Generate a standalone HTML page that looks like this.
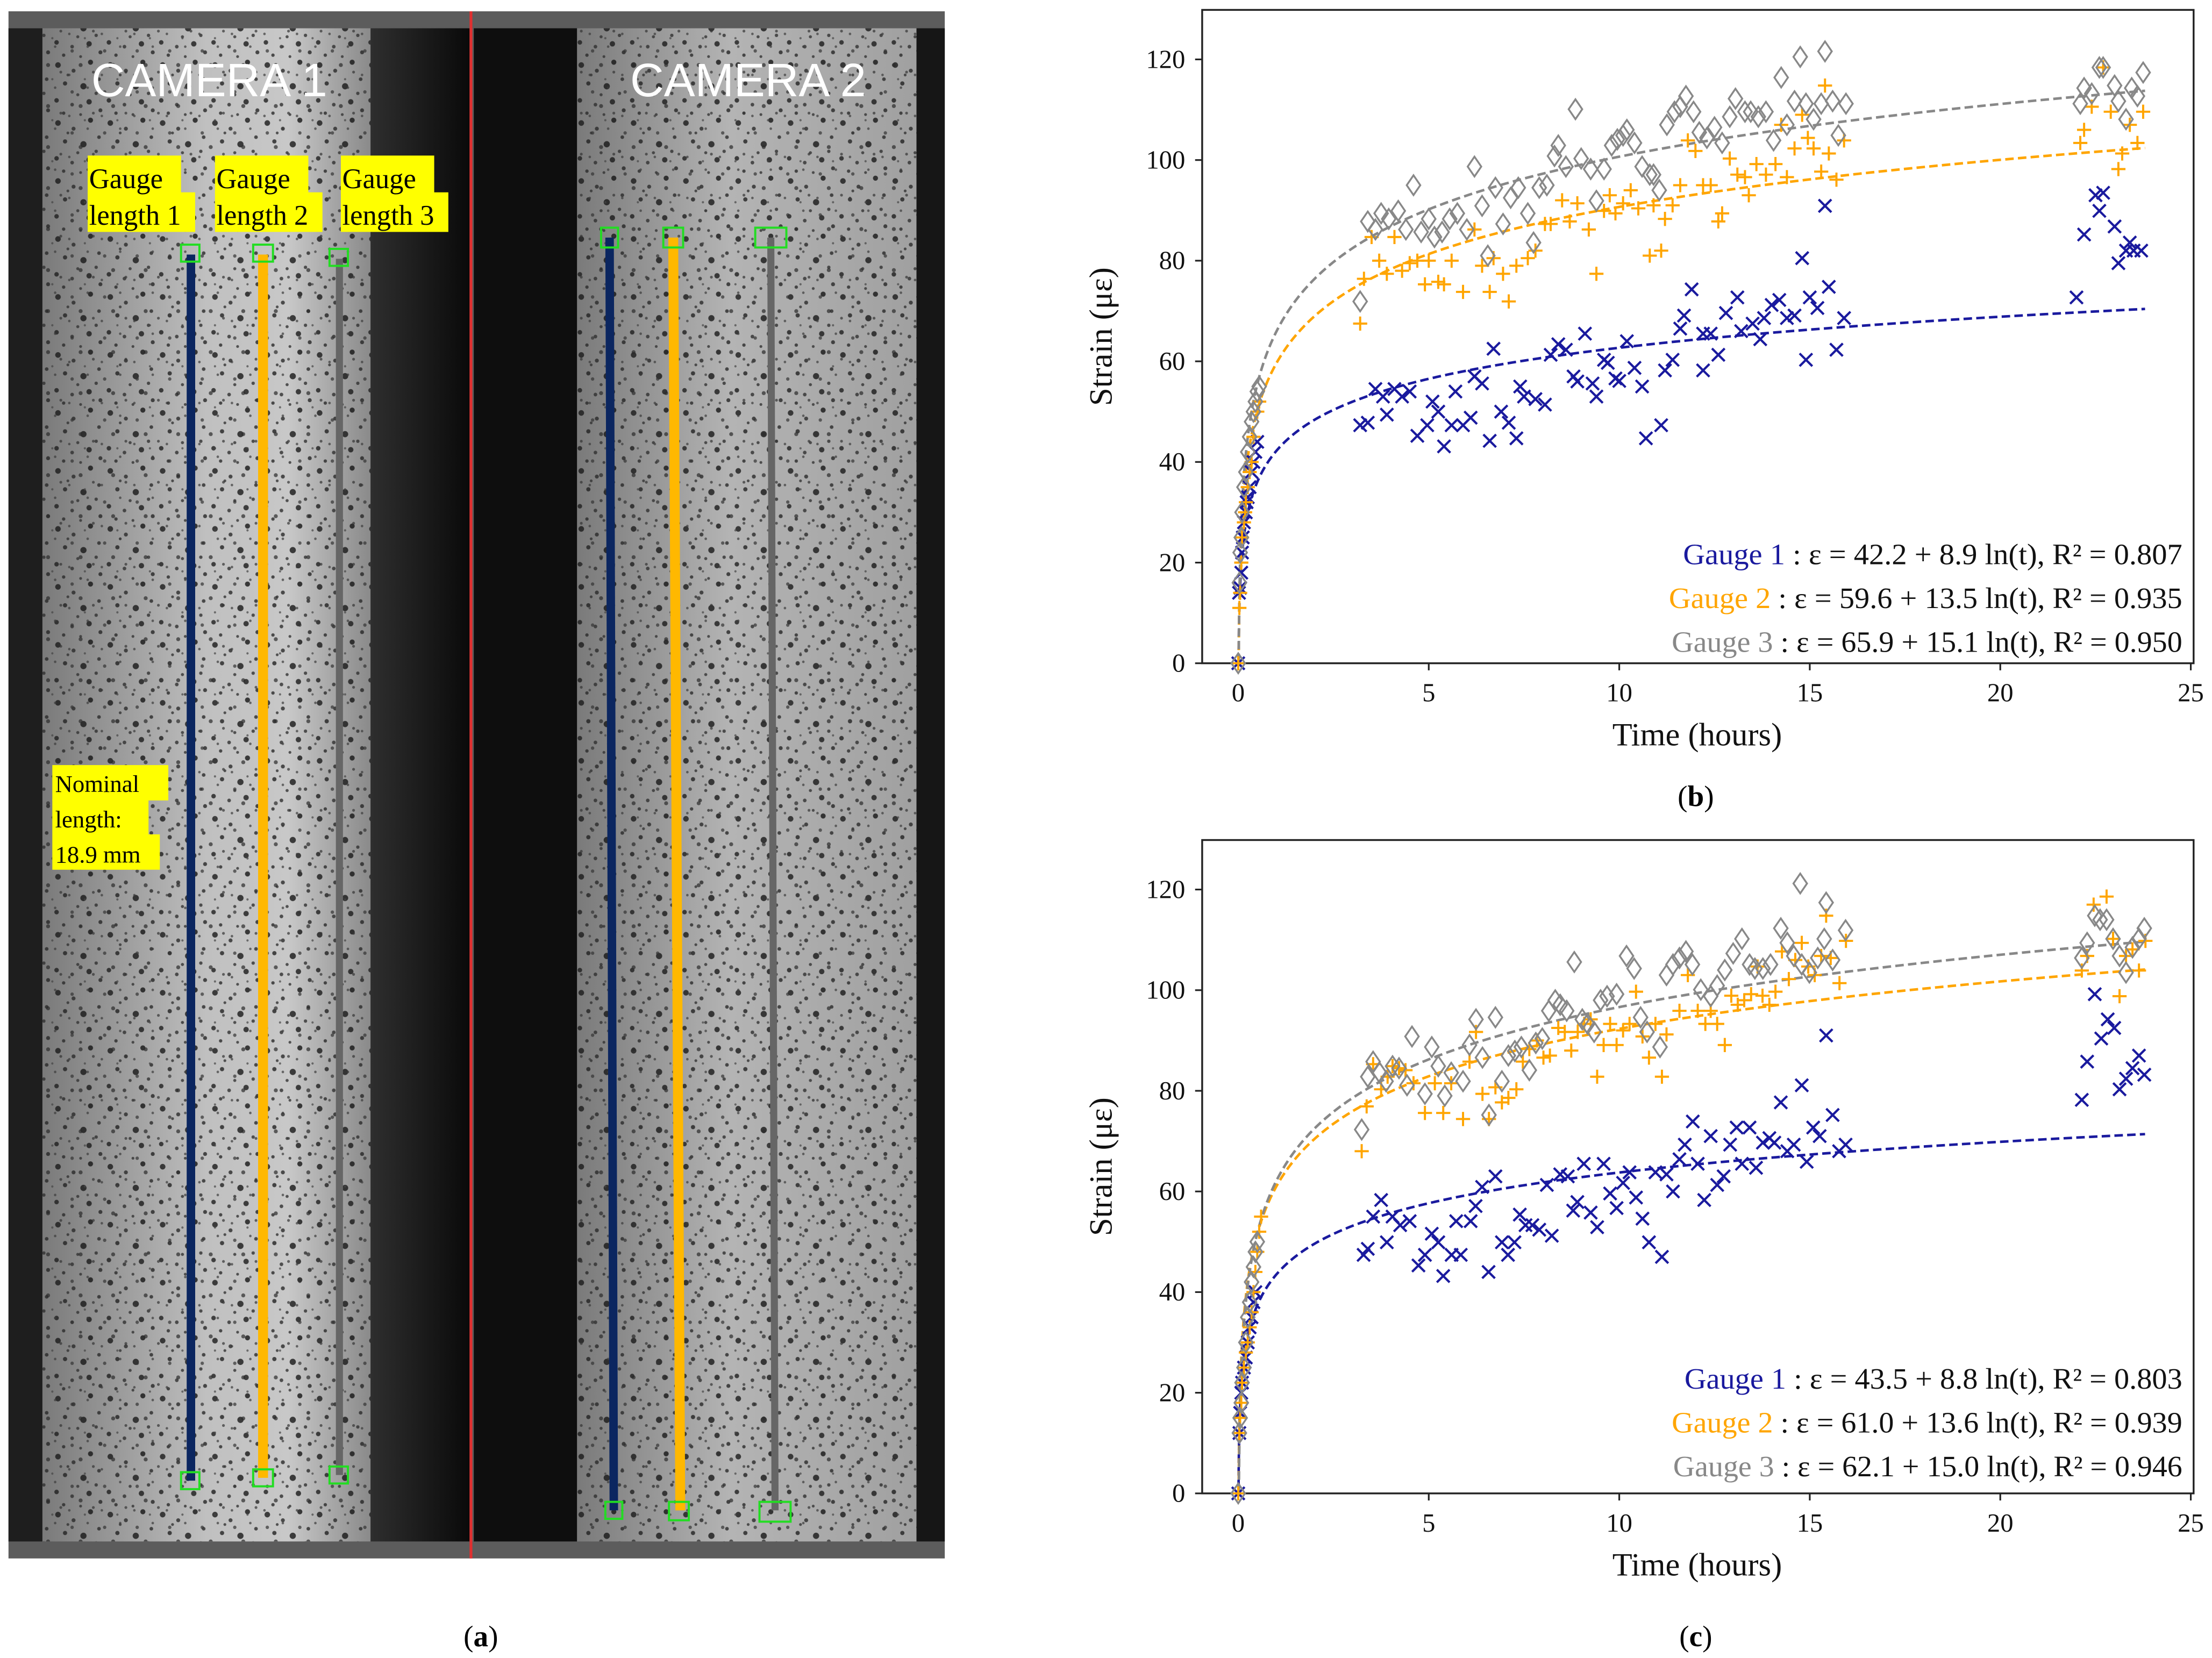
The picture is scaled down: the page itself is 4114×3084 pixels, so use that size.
<!DOCTYPE html>
<html><head><meta charset="utf-8">
<style>
html,body{margin:0;padding:0;background:#fff;}
svg{display:block;}
text{font-family:"Liberation Serif",serif;}
</style></head>
<body>
<svg id="root" width="4114" height="3084" viewBox="0 0 1564 1172.4" preserveAspectRatio="none" xmlns="http://www.w3.org/2000/svg">
<defs>
<pattern id="speck" width="37" height="41" patternUnits="userSpaceOnUse">
<circle cx="4" cy="5" r="2" fill="#1a1a1a"/><circle cx="15" cy="9" r="1.4" fill="#2a2a2a"/><circle cx="27" cy="3" r="1.8" fill="#151515"/>
<circle cx="9" cy="18" r="1.5" fill="#222"/><circle cx="22" cy="20" r="2.2" fill="#181818"/><circle cx="33" cy="15" r="1.3" fill="#2a2a2a"/>
<circle cx="3" cy="30" r="1.6" fill="#1e1e1e"/><circle cx="14" cy="33" r="1.3" fill="#303030"/><circle cx="26" cy="31" r="1.9" fill="#1a1a1a"/>
<circle cx="34" cy="37" r="1.4" fill="#262626"/><circle cx="18" cy="26" r="1.1" fill="#333"/><circle cx="31" cy="25" r="1.2" fill="#303030"/>
<circle cx="8" cy="39" r="1.2" fill="#2a2a2a"/><circle cx="20" cy="40" r="1" fill="#333"/><circle cx="11" cy="12" r="1" fill="#333"/>
</pattern>
<pattern id="speck2" width="23" height="29" patternUnits="userSpaceOnUse">
<circle cx="5" cy="7" r="1.2" fill="#333"/><circle cx="16" cy="4" r="0.9" fill="#3a3a3a"/><circle cx="11" cy="17" r="1.4" fill="#2a2a2a"/>
<circle cx="20" cy="22" r="1" fill="#333"/><circle cx="3" cy="24" r="0.9" fill="#3a3a3a"/><circle cx="14" cy="27" r="0.8" fill="#444"/>
</pattern>
<linearGradient id="spec1" x1="0" x2="1" y1="0" y2="0">
<stop offset="0" stop-color="#7a7a7a"/><stop offset="0.5" stop-color="#c0c0c0"/><stop offset="0.75" stop-color="#c8c8c8"/><stop offset="1" stop-color="#8a8a8a"/>
</linearGradient>
<linearGradient id="spec2" x1="0" x2="1" y1="0" y2="0">
<stop offset="0" stop-color="#7a7a7a"/><stop offset="0.45" stop-color="#b4b4b4"/><stop offset="1" stop-color="#a0a0a0"/>
</linearGradient>
<linearGradient id="dark1" x1="0" x2="1" y1="0" y2="0">
<stop offset="0" stop-color="#2e2e2e"/><stop offset="1" stop-color="#0a0a0a"/>
</linearGradient>
</defs>

<!-- PHOTO PANEL (a) -->
<g>
<rect x="6" y="8" width="662" height="1094" fill="#5c5c5c"/>
<rect x="6" y="20" width="24" height="1070" fill="#1e1e1e"/>
<rect x="30" y="20" width="232" height="1070" fill="url(#spec1)"/>
<rect x="30" y="20" width="232" height="1070" fill="url(#speck)" opacity="0.8"/>
<rect x="30" y="20" width="232" height="1070" fill="url(#speck2)" opacity="0.7"/>
<rect x="262" y="20" width="70" height="1070" fill="url(#dark1)"/>
<rect x="332" y="8" width="2" height="1094" fill="#e03030"/>
<rect x="335" y="20" width="73" height="1070" fill="#0e0e0e"/>
<rect x="408" y="20" width="240" height="1070" fill="url(#spec2)"/>
<rect x="408" y="20" width="240" height="1070" fill="url(#speck)" opacity="0.8"/>
<rect x="408" y="20" width="240" height="1070" fill="url(#speck2)" opacity="0.7"/>
<rect x="648" y="20" width="20" height="1070" fill="#161616"/>

<text x="148" y="68" text-anchor="middle" font-size="33" fill="#fff" style="font-family:'Liberation Sans',sans-serif">CAMERA 1</text>
<text x="529" y="68" text-anchor="middle" font-size="33" fill="#fff" style="font-family:'Liberation Sans',sans-serif">CAMERA 2</text>

<g>
<rect x="62" y="110" width="66" height="27" fill="#ffff00"/><rect x="62" y="136" width="76" height="28" fill="#ffff00"/>
<text x="63" y="133" font-size="20">Gauge</text><text x="63" y="159" font-size="20">length 1</text></g>
<g>
<rect x="152" y="110" width="66" height="27" fill="#ffff00"/><rect x="152" y="136" width="76" height="28" fill="#ffff00"/>
<text x="153" y="133" font-size="20">Gauge</text><text x="153" y="159" font-size="20">length 2</text></g>
<g>
<rect x="241" y="110" width="66" height="27" fill="#ffff00"/><rect x="241" y="136" width="76" height="28" fill="#ffff00"/>
<text x="242" y="133" font-size="20">Gauge</text><text x="242" y="159" font-size="20">length 3</text></g>
<g style="font-family:'Liberation Sans',sans-serif">
<rect x="37" y="541" width="82" height="25" fill="#ffff00"/><rect x="37" y="565" width="68" height="25" fill="#ffff00"/><rect x="37" y="590" width="76" height="25" fill="#ffff00"/>
<text x="39" y="560" font-size="17">Nominal</text><text x="39" y="585" font-size="17">length:</text><text x="39" y="610" font-size="17">18.9 mm</text></g>

<line x1="135" y1="180" x2="135" y2="1047" stroke="#0b2660" stroke-width="6"/>
<line x1="186" y1="180" x2="186" y2="1045" stroke="#ffb800" stroke-width="7"/>
<line x1="240" y1="183" x2="240" y2="1043" stroke="#666" stroke-width="5"/>
<line x1="431" y1="168" x2="434" y2="1068" stroke="#0b2660" stroke-width="6"/>
<line x1="476" y1="168" x2="481" y2="1068" stroke="#ffb800" stroke-width="7"/>
<line x1="545" y1="168" x2="548" y2="1068" stroke="#666" stroke-width="5"/>
<g fill="none" stroke="#22dd22" stroke-width="1.5">
<rect x="128" y="173" width="13" height="12"/><rect x="179" y="173" width="14" height="12"/><rect x="233" y="176" width="13" height="12"/>
<rect x="128" y="1041" width="13" height="12"/><rect x="179" y="1039" width="14" height="12"/><rect x="233" y="1037" width="13" height="12"/>
<rect x="425" y="161" width="12" height="14"/><rect x="469" y="161" width="14" height="14"/><rect x="534" y="161" width="22" height="14"/>
<rect x="428" y="1062" width="12" height="12"/><rect x="473" y="1062" width="14" height="13"/><rect x="537" y="1062" width="22" height="14"/>
</g>
</g>
<text x="340" y="1164" text-anchor="middle" font-size="21">(<tspan font-weight="bold">a</tspan>)</text>
<text x="1199" y="570" text-anchor="middle" font-size="21">(<tspan font-weight="bold">b</tspan>)</text>
<text x="1199" y="1164" text-anchor="middle" font-size="21">(<tspan font-weight="bold">c</tspan>)</text>

<g id="chartB"></g>
<g id="chartC"></g>
</svg>

<script>
// ---------- data: chart (b) ----------
var xTicks = [0, 5, 10, 15, 20, 25];
var yTicks = [0, 20, 40, 60, 80, 100, 120];
var seriesNames = ["Gauge 1", "Gauge 2", "Gauge 3"];

var bG1t = [0,0.02,0.05,0.08,0.1,0.12,0.15,0.2,0.22,0.25,0.3,0.35,0.4,0.45,0.5,
3.2,3.4,3.6,3.9,3.8,4.1,4.3,4.5,4.7,4.96,5.1,5.25,5.4,5.6,5.7,5.9,6.1,6.2,6.4,6.6,6.7,6.9,7.1,7.3,7.4,7.5,7.8,8.05,8.2,8.4,8.6,8.8,8.9,9.1,9.3,9.4,9.6,9.7,9.9,10.0,10.2,10.4,10.6,10.7,11.1,11.2,11.4,11.6,11.7,11.9,12.2,12.2,12.4,12.6,12.8,13.1,13.2,13.5,13.7,13.8,14.0,14.2,14.4,14.6,14.8,14.9,15.0,15.2,15.4,15.5,15.7,15.9,
22.0,22.2,22.5,22.6,22.7,23.0,23.1,23.3,23.4,23.5,23.7];
var bG1v = [0,14,15,18,22,25,28,30,32,33,35,38,40,42,44,
47.3,47.8,54.5,49.4,53,54.5,53,54,45.2,47.3,52,50,43.1,47.3,54,47.3,48.8,57,55.6,44.2,62.5,50,47.8,44.7,55,53,52.5,51.4,61.3,63.4,62.3,57,56,65.5,55.6,53,60.3,59.7,56.6,56.1,64,58.7,55,44.7,47.3,58.2,60.3,66.5,69.1,74.3,58.2,65.5,65.5,61.3,69.6,72.7,66,67.5,64.4,68.6,71.2,72.2,68.6,69.1,80.5,60.3,72.7,70.6,90.9,74.8,62.3,68.6,
72.7,85.2,93,89.9,93.5,86.8,79.5,82,83.6,82,82];

var bG2t = [0,0.03,0.05,0.08,0.1,0.15,0.18,0.2,0.25,0.3,0.35,0.4,0.5,0.55,
3.2,3.3,3.5,3.7,3.9,4.1,4.3,4.5,4.7,4.9,5.0,5.25,5.4,5.6,5.9,6.2,6.4,6.6,6.7,6.95,7.1,7.3,7.6,7.8,8.05,8.2,8.5,8.7,8.9,9.2,9.4,9.6,9.75,9.9,10.1,10.3,10.5,10.8,10.9,11.1,11.2,11.4,11.6,11.8,12.0,12.2,12.4,12.6,12.7,12.9,13.1,13.3,13.4,13.6,13.85,14.1,14.25,14.4,14.6,14.8,14.95,15.1,15.3,15.4,15.5,15.7,15.9,
22.1,22.2,22.4,22.7,22.9,23.1,23.2,23.4,23.6,23.75];
var bG2v = [0,11,14,20,25,28,30,32,35,38,40,45,50,52,
67.5,76.4,84.7,80,77.4,84.7,78,79.5,80,75.3,80,75.8,75.3,80,73.8,86.2,79,73.8,80.5,77.4,71.9,79,80.5,82,87.3,87.3,92,87.8,91.4,86.2,77.4,89.9,93,89.4,91.4,94,90.4,81,91,82,88.3,91,95,103.9,101.8,95,95,87.8,89.4,100.3,97.1,96.6,93,99.2,97.1,99.2,107,96.6,102.3,109,104.4,102.3,97.7,114.8,101.3,96.1,103.9,
103.4,106,110.6,118.4,109.6,98.2,101.3,107,103.4,109.6];

var bG3t = [0,0.03,0.05,0.08,0.1,0.15,0.2,0.25,0.3,0.35,0.4,0.45,0.5,0.55,
3.2,3.4,3.6,3.75,3.95,4.2,4.4,4.6,4.8,5.0,5.15,5.35,5.55,5.75,6.0,6.2,6.4,6.55,6.75,6.95,7.15,7.35,7.6,7.75,7.9,8.1,8.3,8.4,8.6,8.85,9.0,9.25,9.4,9.6,9.8,9.95,10.1,10.2,10.4,10.6,10.8,10.9,11.05,11.25,11.45,11.6,11.75,11.95,12.1,12.3,12.5,12.7,12.9,13.05,13.3,13.45,13.65,13.85,14.05,14.25,14.4,14.6,14.75,14.9,15.1,15.3,15.4,15.6,15.75,15.95,
22.1,22.2,22.4,22.6,22.7,23.0,23.1,23.3,23.45,23.6,23.75];
var bG3v = [0,16,22,25,30,35,38,42,45,48,50,52,54,55,
71.9,87.8,86.2,89.4,88.3,89.9,86.2,95,85.7,88.3,84.7,85.7,88.3,89.4,86.2,98.7,90.9,81,94.5,87.3,92.5,94.5,89.4,83.6,94.5,95,100.8,102.9,98.7,110.1,100.3,98.2,91.9,98.2,102.9,104.1,104.9,106,103.4,98.7,97.1,97.1,94,107,109.6,110.6,112.7,109.6,105.5,104.4,106.5,103.4,108.6,112.2,109.6,109.6,108.6,109.6,103.9,116.4,107,111.7,120.5,111.2,108.1,111.2,121.6,111.7,104.9,111.2,
111.2,114.3,113.2,118.4,118.4,114.8,111.7,108.1,114.3,112.7,117.4];

var bFitA = [42.2, 59.6, 65.9];
var bFitB = [8.9, 13.5, 15.1];
var bR2 = ["0.807", "0.935", "0.950"];

// ---------- data: chart (c) ----------
var cG1t = [0,0.03,0.05,0.08,0.1,0.15,0.2,0.25,0.3,0.35,0.4,0.45,
3.29,3.4,3.75,3.54,3.9,4.05,4.25,4.5,4.73,4.9,5.08,5.25,5.38,5.6,5.84,5.72,6.1,6.23,6.4,6.57,6.75,6.92,7.08,7.25,7.39,7.54,7.72,7.9,8.1,8.23,8.45,8.65,8.79,8.9,9.07,9.25,9.42,9.59,9.76,9.93,10.1,10.27,10.44,10.61,10.78,10.95,11.12,11.24,11.41,11.58,11.72,11.93,12.06,12.23,12.4,12.57,12.74,12.91,13.08,13.22,13.42,13.59,13.77,13.94,14.07,14.24,14.41,14.58,14.79,14.92,15.09,15.26,15.43,15.6,15.77,15.94,
22.14,22.28,22.48,22.65,22.82,22.99,23.13,23.3,23.47,23.64,23.78];
var cG1v = [0,12,16,20,22,25,27,30,33,35,38,40,
47.4,48.6,58.3,55,49.9,55,53.3,54.1,45.3,47.4,51.6,49.9,43.2,47.4,47.4,54.1,54.1,57.1,60.9,44,63,49.9,47.4,49.9,55.4,53.3,53.3,52.4,61.3,51.2,63.4,63,56.2,57.9,65.5,55.8,52.9,65.5,59.6,56.7,61.7,63.8,58.8,54.6,49.9,63.8,47,63.4,60,66.4,69.3,73.9,65.5,58.3,71,61.3,63,69.3,72.7,65.5,72.7,64.7,69.7,70.6,69.7,77.7,68,69.3,81.1,65.9,72.7,71,91,75.2,68,69.3,
78.2,85.8,99.2,90.4,94.2,92.5,80.3,82.4,84.5,87,83.2];

var cG2t = [0,0.03,0.05,0.08,0.1,0.15,0.2,0.25,0.3,0.35,0.4,0.45,0.5,0.55,0.6,
3.24,3.37,3.54,3.75,3.92,4.05,4.22,4.39,4.6,4.9,5.16,5.38,5.59,5.9,6.07,6.24,6.41,6.58,6.75,6.92,7.09,7.3,7.47,7.64,7.84,8.01,8.18,8.4,8.57,8.74,8.91,9.08,9.25,9.42,9.59,9.76,9.93,10.1,10.27,10.44,10.61,10.78,10.95,11.12,11.24,11.58,11.8,12.06,12.26,12.4,12.57,12.77,12.94,13.11,13.28,13.46,13.63,13.76,13.94,14.1,14.27,14.45,14.62,14.79,14.96,15.13,15.3,15.43,15.55,15.78,15.95,
22.14,22.28,22.45,22.79,22.96,23.13,23.3,23.47,23.64,23.81];
var cG2v = [0,12,15,18,22,25,28,30,33,36,40,44,48,52,55,
68,76.9,85.3,80.3,82.8,84.9,84.5,84.1,81.5,75.6,81.5,75.6,81.5,74.4,85.8,91.7,79.4,74.4,80.7,77.7,78.6,80.3,85.8,88.3,90,86.6,87,92.5,91.7,88,91.7,93.3,94.2,82.8,89.1,93.3,89.1,92,93.3,99.7,90.8,86.6,93.3,82.8,91.2,95.9,103,95.9,93.3,95.9,93.3,89.1,98.9,97.1,98,99.2,104.7,98.9,97.1,99.7,107.7,102.2,106,109.4,104.7,103,106.8,114.8,106.4,101.4,109.8,
103.9,106.8,117,118.6,110.2,98.8,106.8,108.1,103.9,109.8];

var cG3t = [0,0.03,0.05,0.08,0.1,0.15,0.2,0.25,0.3,0.35,0.4,0.45,0.5,
3.24,3.4,3.54,3.71,3.88,4.05,4.22,4.43,4.56,4.9,5.08,5.25,5.42,5.59,5.9,6.07,6.24,6.41,6.58,6.75,6.92,7.09,7.26,7.43,7.64,7.81,7.98,8.15,8.32,8.45,8.62,8.82,9.03,9.17,9.34,9.51,9.68,9.93,10.19,10.39,10.56,10.73,11.07,11.24,11.41,11.58,11.75,11.92,12.14,12.4,12.57,12.77,12.99,13.22,13.42,13.56,13.77,13.97,14.24,14.41,14.58,14.75,14.79,14.99,15.21,15.38,15.43,15.6,15.94,
22.14,22.28,22.48,22.62,22.79,22.96,23.13,23.3,23.47,23.64,23.78];
var cG3v = [0,12,15,18,22,25,30,35,38,42,45,48,50,
72.3,82.8,85.8,83.6,81.9,84.9,84.5,81.1,90.8,79.4,88.7,84.9,79,83.6,81.9,89.1,94.2,86.6,75.2,94.6,81.9,87,87.9,88.7,84.1,89.5,90.4,95.9,98,97.1,95.9,105.6,94.2,93.3,91.7,98,98.8,99.2,106.8,104.3,94.6,91.7,88.7,103,105.1,106.4,107.7,105.1,100.1,98.8,100.9,104,107.3,110.2,105.1,104.3,104.3,105.1,112.3,109.4,106.8,121.2,105.1,103.5,106.4,110.2,117.4,106,111.9,
106.4,109.4,114.8,114,114,110.2,106.8,103.5,108.5,110.2,112.3];

var cFitA = [43.5, 61.0, 62.1];
var cFitB = [8.8, 13.6, 15.0];
var cR2 = ["0.803", "0.939", "0.946"];

// ---------- drawing ----------
var NS = "http://www.w3.org/2000/svg";
var colors = ["#1a1a9e", "#ffa500", "#888888"];
function mk(tag, attrs, parent) {
  var e = document.createElementNS(NS, tag);
  for (var k in attrs) e.setAttribute(k, attrs[k]);
  parent.appendChild(e);
  return e;
}
function drawChart(gid, top, bottom, tList, vList, fitA, fitB, r2, legendX, legendBase) {
  var g = document.getElementById(gid);
  var left = 850, right = 1551;
  var x0 = 875.5, pxH = 26.94;
  var yb = bottom, pxV = (bottom - (top + 35)) / 120;
  function X(t) { return x0 + t * pxH; }
  function Y(v) { return yb - v * pxV; }

  var frame = mk("rect", {x: left, y: top, width: right - left, height: bottom - top, fill: "none", stroke: "#222", "stroke-width": 1.3}, g);
  
  

  var ya = mk("g", {}, g);
  
  
  yTicks.forEach(function (v) {
    mk("line", {x1: left - 5, x2: left, y1: Y(v), y2: Y(v), stroke: "#222", "stroke-width": 1.2}, ya);
    var tl = mk("text", {x: left - 12, y: Y(v) + 6, "text-anchor": "end", "font-size": 18.5, fill: "#111"}, ya);
    tl.textContent = v;
    
    
  });
  var xa = mk("g", {}, g);
  
  
  xTicks.forEach(function (t) {
    mk("line", {x1: X(t), x2: X(t), y1: bottom, y2: bottom + 5, stroke: "#222", "stroke-width": 1.2}, xa);
    var tl = mk("text", {x: X(t), y: bottom + 27, "text-anchor": "middle", "font-size": 18.5, fill: "#111"}, xa);
    tl.textContent = t;
    
    
  });
  var xl = mk("text", {x: 1200, y: bottom + 58, "text-anchor": "middle", "font-size": 23, fill: "#111"}, g);
  xl.textContent = "Time (hours)";
  
  
  var cy = (top + bottom) / 2;
  var yl = mk("text", {x: 0, y: 0, "text-anchor": "middle", "font-size": 23, fill: "#111", transform: "translate(786," + cy + ") rotate(-90)"}, g);
  yl.textContent = "Strain (με)";
  
  

  for (var s = 0; s < 3; s++) {
    var d = "", first = true;
    for (var i = 0; i <= 400; i++) {
      var t = Math.exp(Math.log(0.008) + (Math.log(23.8) - Math.log(0.008)) * i / 400);
      var v = fitA[s] + fitB[s] * Math.log(t);
      if (v < 0) continue;
      d += (first ? "M" : "L") + X(t).toFixed(2) + "," + Y(v).toFixed(2);
      first = false;
    }
    var fp = mk("path", {d: d, fill: "none", stroke: colors[s], "stroke-width": 1.8, "stroke-dasharray": "6,3"}, g);
    
    
  }
  for (var s2 = 0; s2 < 3; s2++) {
    var mg = mk("g", {}, g);
    
    
    var ts = tList[s2], vs = vList[s2];
    for (var j = 0; j < ts.length; j++) {
      var px = X(ts[j]), py = Y(vs[j]), m;
      if (s2 === 0) {
        m = mk("path", {d: "M" + (px - 4.5) + "," + (py - 4.5) + "L" + (px + 4.5) + "," + (py + 4.5) + "M" + (px - 4.5) + "," + (py + 4.5) + "L" + (px + 4.5) + "," + (py - 4.5), stroke: colors[0], "stroke-width": 1.6, fill: "none"}, mg);
      } else if (s2 === 1) {
        m = mk("path", {d: "M" + (px - 5) + "," + py + "L" + (px + 5) + "," + py + "M" + px + "," + (py - 5) + "L" + px + "," + (py + 5), stroke: colors[1], "stroke-width": 1.5, fill: "none"}, mg);
      } else {
        m = mk("path", {d: "M" + px + "," + (py - 7) + "L" + (px + 4.8) + "," + py + "L" + px + "," + (py + 7) + "L" + (px - 4.8) + "," + py + "Z", stroke: colors[2], "stroke-width": 1.3, fill: "none"}, mg);
      }
      
      
    }
  }
  var starts = legendX;
  for (var k = 0; k < 3; k++) {
    var lt = mk("text", {x: 1543, y: legendBase + k * 31, "text-anchor": "end", "font-size": 21, fill: "#111", textLength: 1543 - starts[k], lengthAdjust: "spacingAndGlyphs"}, g);
    
    
    var sp = mk("tspan", {fill: colors[k]}, lt);
    sp.textContent = seriesNames[k];
    var sp2 = mk("tspan", {}, lt);
    sp2.textContent = " : ε = " + fitA[k].toFixed(1) + " + " + fitB[k].toFixed(1) + " ln(t), R² = " + r2[k];
  }
}
drawChart("chartB", 7, 469, [bG1t, bG2t, bG3t], [bG1v, bG2v, bG3v], bFitA, bFitB, bR2, [1190, 1180, 1182], 399);
drawChart("chartC", 594, 1056, [cG1t, cG2t, cG3t], [cG1v, cG2v, cG3v], cFitA, cFitB, cR2, [1191, 1182, 1183], 982);
</script>
</body></html>
